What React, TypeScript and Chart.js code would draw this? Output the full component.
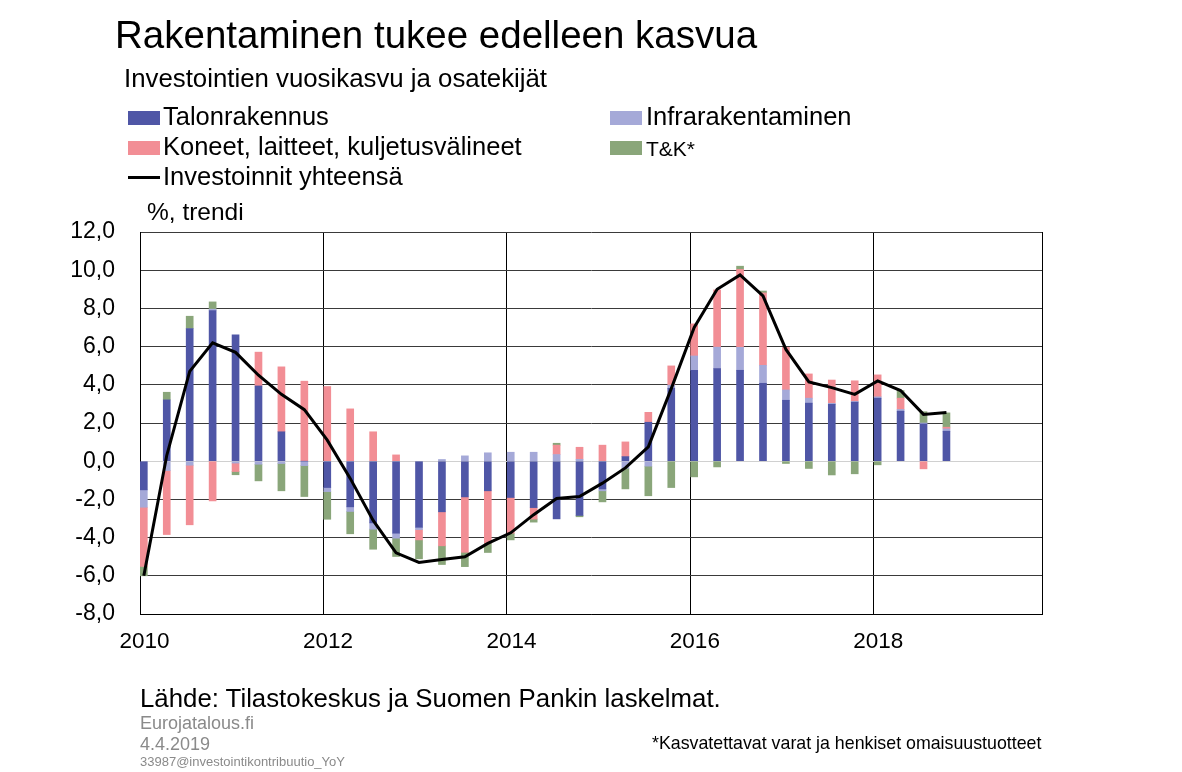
import React, { useEffect, useRef } from "react";
import { Chart, registerables } from "chart.js";

Chart.register(...registerables);

// Quarterly data 2010Q1 ... 2018Q4 (contributions, %-points)
const quarters: string[] = [
  "2010Q1","2010Q2","2010Q3","2010Q4","2011Q1","2011Q2","2011Q3","2011Q4",
  "2012Q1","2012Q2","2012Q3","2012Q4","2013Q1","2013Q2","2013Q3","2013Q4",
  "2014Q1","2014Q2","2014Q3","2014Q4","2015Q1","2015Q2","2015Q3","2015Q4",
  "2016Q1","2016Q2","2016Q3","2016Q4","2017Q1","2017Q2","2017Q3","2017Q4",
  "2018Q1","2018Q2","2018Q3","2018Q4",
];

const talonrakennus: number[] = [
  -1.5, 3.21, 6.95, 7.89, 6.61, 3.94, 1.54, 0.0,
  -1.38, -2.39, -3.23, -3.77, -3.46, -2.65, -1.87, -1.55,
  -1.9, -2.43, -3.02, -2.84, -1.45, 0.24, 2.04, 3.82,
  4.76, 4.85, 4.76, 4.08, 3.19, 3.04, 2.98, 3.09,
  3.3, 2.62, 1.95, 1.57,
];

const infrarakentaminen: number[] = [
  -0.91, -0.49, -0.21, 0.07, -0.1, -0.16, -0.12, -0.23,
  -0.21, -0.24, -0.33, -0.26, -0.12, 0.09, 0.28, 0.44,
  0.47, 0.47, 0.35, 0.1, -0.1, -0.37, -0.26, 0.16,
  0.75, 1.12, 1.2, 0.94, 0.54, 0.26, 0.05, 0.04,
  0.07, 0.09, 0.05, 0.12,
];

const koneet: number[] = [
  -3.1, -3.35, -3.12, -2.08, -0.44, 1.77, 3.4, 4.19,
  3.91, 2.74, 1.54, 0.33, -0.54, -1.78, -2.9, -2.74,
  -1.87, -0.6, 0.49, 0.63, 0.84, 0.77, 0.52, 1.01,
  1.68, 3.0, 4.08, 3.79, 2.23, 1.27, 1.22, 1.08,
  1.15, 0.59, -0.4, 0.09,
];

const tk: number[] = [
  -0.49, 0.4, 0.64, 0.38, -0.17, -0.87, -1.43, -1.62,
  -1.45, -1.17, -1.05, -0.96, -0.99, -0.98, -0.75, -0.49,
  -0.35, -0.16, 0.1, -0.07, -0.58, -1.08, -1.55, -1.38,
  -0.82, -0.3, 0.17, 0.1, -0.12, -0.38, -0.72, -0.66,
  -0.19, 0.4, 0.59, 0.75,
];

const yhteensa: number[] = [
  -6.0, 0.3, 4.7, 6.2, 5.7, 4.5, 3.5, 2.7,
  1.1, -0.9, -3.1, -4.8, -5.3, -5.15, -5.0, -4.3,
  -3.75, -2.8, -1.95, -1.85, -1.15, -0.35, 0.75, 3.8,
  7.0, 9.0, 9.75, 8.65, 5.85, 4.15, 3.85, 3.5,
  4.2, 3.7, 2.45, 2.55,
];

const yearTicks: number[] = [2010, 2012, 2014, 2016, 2018];
const yTicks: number[] = [-8, -6, -4, -2, 0, 2, 4, 6, 8, 10, 12];

const seriesNames = {
  talo: "Talonrakennus",
  infra: "Infrarakentaminen",
  koneet: "Koneet, laitteet, kuljetusvälineet",
  tk: "T&K*",
  total: "Investoinnit yhteensä",
};

const COLORS = {
  talo: "#4f56a6",
  infra: "#a5a9d8",
  koneet: "#f28e95",
  tk: "#8aa67a",
  total: "#000000",
};

const FONT = '"Liberation Sans", Arial, sans-serif';

// months since Jan 2010 (x axis is a monthly date axis, bars centred in their month)
const START_YEAR = 2010;
const AXIS_MONTHS = 118;
const qx = (i: number) => {
  const [y, q] = quarters[i].split("Q").map(Number);
  return (y - START_YEAR) * 12 + (q - 1) * 3 + 0.5;
};
const pts = (arr: number[]) => arr.map((v, i) => ({ x: qx(i), y: v }));

const Txt = ({ x, base, size, text, color = "#000", ls = 0 }: any) => (
  <div
    style={{
      position: "absolute",
      left: x,
      top: base - size * 0.8465,
      fontSize: size,
      lineHeight: `${size}px`,
      fontFamily: FONT,
      color,
      whiteSpace: "nowrap",
      letterSpacing: ls,
    }}
  >
    {text}
  </div>
);

const Swatch = ({ x, y, color }: any) => (
  <div style={{ position: "absolute", left: x, top: y, width: 32, height: 14, background: color }} />
);

export default function App() {
  const ref = useRef<HTMLCanvasElement | null>(null);

  useEffect(() => {
    if (!ref.current) return;
    const barCommon = { type: "bar" as const, barThickness: 7, stack: "bars", order: 1, borderWidth: 0 };
    const chart = new Chart(ref.current, {
      type: "bar",
      data: {
        datasets: [
          { ...barCommon, label: seriesNames.talo, data: pts(talonrakennus), backgroundColor: COLORS.talo },
          { ...barCommon, label: seriesNames.infra, data: pts(infrarakentaminen), backgroundColor: COLORS.infra },
          { ...barCommon, label: seriesNames.koneet, data: pts(koneet), backgroundColor: COLORS.koneet },
          { ...barCommon, label: seriesNames.tk, data: pts(tk), backgroundColor: COLORS.tk },
          {
            type: "line",
            label: seriesNames.total,
            data: pts(yhteensa),
            borderColor: COLORS.total,
            borderWidth: 3,
            pointRadius: 0,
            tension: 0,
            stack: "line",
            order: 0,
            fill: false,
          } as any,
        ],
      },
      options: {
        animation: false,
        responsive: false,
        events: [],
        layout: { padding: { left: 0, top: 232, right: 140, bottom: 0 } },
        plugins: { legend: { display: false }, tooltip: { enabled: false }, title: { display: false } },
        scales: {
          x: {
            type: "linear",
            min: 0,
            max: AXIS_MONTHS,
            offset: false,
            stacked: true,
            afterBuildTicks: (scale: any) => {
              scale.ticks = [...yearTicks.map((y) => (y - START_YEAR) * 12), AXIS_MONTHS].map((v) => ({ value: v }));
            },
            afterFit: (scale: any) => {
              scale.height = 158;
            },
            ticks: {
              autoSkip: false,
              maxRotation: 0,
              padding: 14,
              labelOffset: 4.5,
              color: "#000",
              font: { family: FONT, size: 22.5 },
              callback: (v: any) => (v === AXIS_MONTHS ? "" : String(START_YEAR + v / 12)),
            },
            grid: { color: "#000", lineWidth: 1, drawTicks: false, offset: false },
            border: { display: true, color: "#000", width: 1 },
          },
          y: {
            min: yTicks[0],
            max: yTicks[yTicks.length - 1],
            stacked: true,
            afterFit: (scale: any) => {
              scale.width = 140;
            },
            ticks: {
              stepSize: 2,
              padding: 25,
              color: "#000",
              font: { family: FONT, size: 23 },
              callback: (v: any) => Number(v).toFixed(1).replace(".", ","),
            },
            grid: {
              drawTicks: false,
              lineWidth: 1,
              color: (c: any) => (c.tick && c.tick.value === 0 ? "#d0d0d0" : "#3a3a3a"),
            },
            border: { display: true, color: "#000", width: 1 },
          },
        },
      } as any,
    });
    return () => chart.destroy();
  }, []);

  return (
    <div style={{ position: "fixed", left: 0, top: 0, width: 1182, height: 772, background: "#fff", overflow: "hidden" }}>
      <canvas ref={ref} width={1182} height={772} style={{ position: "absolute", left: 0, top: 0, width: 1182, height: 772 }} />
      <Txt x={115} base={49} size={38.5} text="Rakentaminen tukee edelleen kasvua" />
      <Txt x={124} base={88} size={25.8} text="Investointien vuosikasvu ja osatekijät" />

      <Swatch x={128} y={111} color={COLORS.talo} />
      <Txt x={163} base={126} size={25.5} text={seriesNames.talo} />
      <Swatch x={610} y={111} color={COLORS.infra} />
      <Txt x={646} base={126} size={25.5} text={seriesNames.infra} />
      <Swatch x={128} y={141} color={COLORS.koneet} />
      <Txt x={163} base={156} size={25.5} text={seriesNames.koneet} />
      <Swatch x={610} y={141} color={COLORS.tk} />
      <Txt x={646} base={156} size={21} text={seriesNames.tk} />
      <div style={{ position: "absolute", left: 128, top: 176, width: 32, height: 3, background: "#000" }} />
      <Txt x={163} base={186} size={25.5} text={seriesNames.total} />

      <Txt x={147} base={221} size={24.5} text="%, trendi" />

      <Txt x={140} base={708} size={25.8} text="Lähde: Tilastokeskus ja Suomen Pankin laskelmat." />
      <Txt x={140} base={729} size={18} color="#8a8a8a" text="Eurojatalous.fi" />
      <Txt x={140} base={750} size={18} color="#8a8a8a" text="4.4.2019" />
      <Txt x={140} base={766} size={13} color="#8a8a8a" text="33987@investointikontribuutio_YoY" />
      <Txt x={652} base={750} size={17.8} text="*Kasvatettavat varat ja henkiset omaisuustuotteet" />
    </div>
  );
}
